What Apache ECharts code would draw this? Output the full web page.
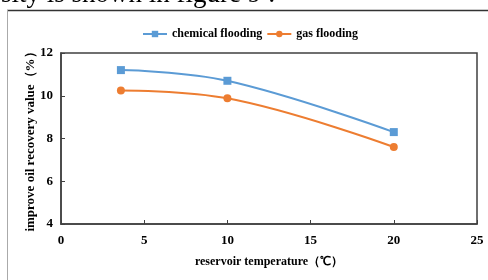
<!DOCTYPE html>
<html><head><meta charset="utf-8">
<script src="https://cdn.jsdelivr.net/npm/echarts@6/dist/echarts.min.js"></script>
<style>html,body{margin:0;padding:0;background:#fff}#c{width:488px;height:280px}</style>
</head><body><div id="c"></div>
<script>
const temperatures = [3.6, 10, 20];
const chemicalFlooding = [11.2, 10.7, 8.3];
const gasFlooding = [10.25, 9.88, 7.6];
const seriesNames = ['chemical flooding', 'gas flooding'];
const xTicks = {min: 0, max: 25, interval: 5};
const yTicks = {min: 4, max: 12, interval: 2};
const captionText = 'sity is shown in figure 9 :';

const font = 'Liberation Serif';
const chart = echarts.init(document.getElementById('c'), null, {renderer: 'canvas'});
const pair = (xs, ys) => xs.map((x, i) => [x, ys[i]]);
chart.setOption({
  animation: false,
  textStyle: {fontFamily: font},
  graphic: [
    {type: 'text', left: 1, top: -19, style: {text: captionText, font: '27px "Liberation Serif"', fill: '#000'}},
    {type: 'line', shape: {x1: 7, y1: 10.5, x2: 488, y2: 10.5}, style: {stroke: '#333', lineWidth: 1.5}},
    {type: 'line', shape: {x1: 7.5, y1: 10, x2: 7.5, y2: 280}, style: {stroke: '#aaa', lineWidth: 1}}
  ],
  legend: {
    top: 23, left: 137, itemWidth: 24, itemHeight: 8, itemGap: 4,
    textStyle: {fontFamily: font, fontWeight: 'bold', fontSize: 12, color: '#000'},
    data: seriesNames
  },
  grid: {left: 61, right: 11, top: 53, bottom: 56, show: true, borderColor: '#404040', borderWidth: 1.5},
  xAxis: {
    type: 'value', min: xTicks.min, max: xTicks.max, interval: xTicks.interval,
    name: 'reservoir temperature（℃）', nameLocation: 'middle', nameGap: 32, nameMoveOverlap: false,
    nameTextStyle: {fontFamily: font, fontWeight: 'bold', fontSize: 12, color: '#000'},
    axisLine: {lineStyle: {color: '#404040', width: 1.5}},
    axisTick: {inside: true, length: 4, lineStyle: {color: '#404040'}},
    axisLabel: {margin: 10, fontFamily: font, fontWeight: 'bold', fontSize: 13, color: '#000'},
    splitLine: {show: false}
  },
  yAxis: {
    type: 'value', min: yTicks.min, max: yTicks.max, interval: yTicks.interval,
    name: 'improve oil recovery value（%）', nameLocation: 'middle', nameGap: 24, nameMoveOverlap: false,
    nameTextStyle: {fontFamily: font, fontWeight: 'bold', fontSize: 13, color: '#000'},
    axisLine: {lineStyle: {color: '#404040', width: 1.5}},
    axisTick: {show: true, inside: true, length: 4, lineStyle: {color: '#404040'}},
    axisLabel: {margin: 8, fontFamily: font, fontWeight: 'bold', fontSize: 13, color: '#000'},
    splitLine: {show: false}
  },
  series: [
    {name: seriesNames[0], type: 'line', smooth: 0.4, symbol: 'rect', symbolSize: 8,
     data: pair(temperatures, chemicalFlooding),
     itemStyle: {color: '#5B9BD5'}, lineStyle: {color: '#5B9BD5', width: 2}},
    {name: seriesNames[1], type: 'line', smooth: 0.4, symbol: 'circle', symbolSize: 8,
     data: pair(temperatures, gasFlooding),
     itemStyle: {color: '#ED7D31'}, lineStyle: {color: '#ED7D31', width: 2}}
  ]
});
</script></body></html>
